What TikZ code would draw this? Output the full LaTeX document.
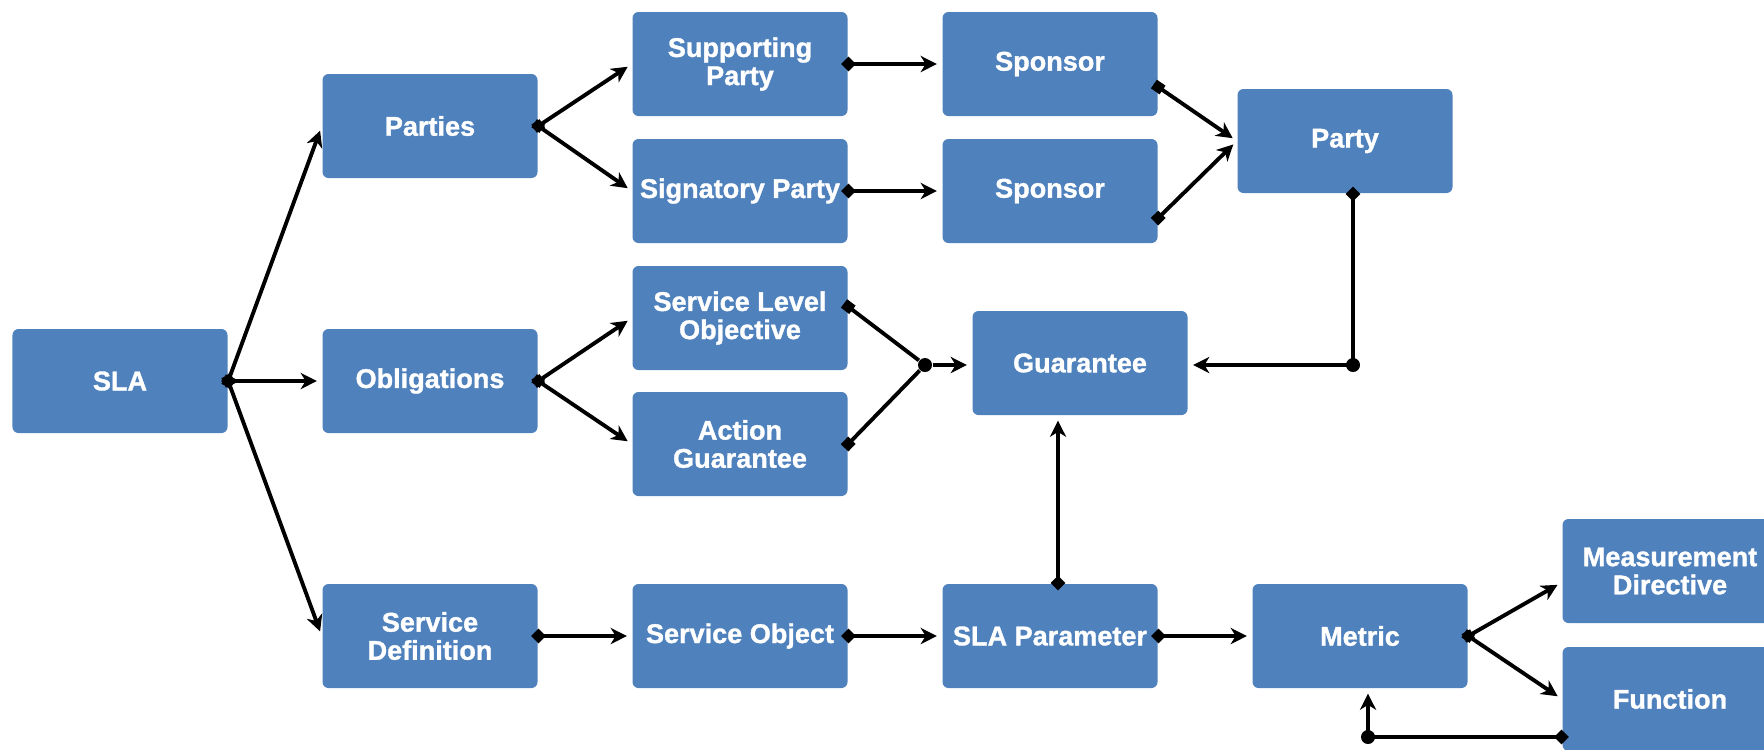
\documentclass[tikz,border=0pt]{standalone}
\usepackage{fontspec}
\setmainfont{Liberation Sans}[BoldFeatures={FakeBold=1.2}]
\usepackage{xcolor}
\usepackage{tikz}
\usetikzlibrary{arrows.meta,calc}

\definecolor{boxblue}{HTML}{4F81BD}

\begin{document}
\begin{tikzpicture}[
    font=\bfseries\fontsize{7.7}{8}\selectfont,
    >={Stealth[length=4.6pt, width=4.6pt, inset=1.4pt]},
    box/.style={rectangle, rounded corners=0.6mm, fill=boxblue, text=white,
                minimum width=21.5mm, minimum height=10.4mm, inner sep=0pt, align=center},
    arr/.style={line width=1.1pt, ->, shorten >=1.4pt},
    dlink/.style={arr, {Turned Square[length=4.2pt, width=4.2pt]}->, shorten <=-2pt},
    slink/.style={line width=1.1pt, {Square[length=3pt, width=3pt]}-, shorten <=-1.5pt},
    sarr/.style={arr, {Square[length=3pt, width=3pt]}->, shorten <=-1.5pt},
    fork/.style={arr, {Square[length=2.8pt, width=2.8pt]}->, shorten <=-1.4pt},
    dot/.style={circle, fill=black, inner sep=0pt, minimum size=1.4mm},
]
\useasboundingbox (0,0) rectangle (17.64,-7.49);
\fill[white] (0,0) rectangle (17.64,-7.49);

% ---------------- boxes ----------------
\node[box] (sla)     at (1.20,-3.81)  {SLA};
\node[box] (parties) at (4.30,-1.26)  {Parties};
\node[box] (oblig)   at (4.30,-3.81)  {Obligations};
\node[box] (servdef) at (4.30,-6.36)  {Service\\Definition};
\node[box] (supp)    at (7.40,-0.64)  {Supporting\\Party};
\node[box] (sign)    at (7.40,-1.91)  {Signatory Party};
\node[box] (slo)     at (7.40,-3.18)  {Service Level\\Objective};
\node[box] (actg)    at (7.40,-4.44)  {Action\\Guarantee};
\node[box] (servobj) at (7.40,-6.36)  {Service Object};
\node[box] (spons1)  at (10.50,-0.64) {Sponsor};
\node[box] (spons2)  at (10.50,-1.91) {Sponsor};
\node[box] (guar)    at (10.80,-3.63) {Guarantee};
\node[box] (slapar)  at (10.50,-6.36) {SLA Parameter};
\node[box] (party)   at (13.45,-1.41) {Party};
\node[box] (metric)  at (13.60,-6.36) {Metric};
\node[box] (measdir) at (16.70,-5.71) {Measurement\\Directive};
\node[box] (func)    at (16.70,-6.99) {Function};

% ---------------- junction dots ----------------
\node[dot] (jg) at (9.25,-3.65) {};
\node[dot] (jp) at (13.53,-3.65) {};
\node[dot] (jm) at (13.68,-7.37) {};

% ---------------- SLA and its parts ----------------
\draw[dlink] (sla.east) -- (parties.west);
\draw[dlink] (sla.east) -- (oblig.west);
\draw[dlink] (sla.east) -- (servdef.west);

\draw[fork] (parties.east) -- (supp.west);
\draw[fork] (parties.east) -- (sign.west);
\draw[fork] (oblig.east) -- (slo.west);
\draw[fork] (oblig.east) -- (actg.west);

% ---------------- parties side ----------------
\draw[dlink] (supp.east) -- (spons1.west);
\draw[dlink] (sign.east) -- (spons2.west);
\draw[sarr] (spons1.-12) -- (party.west);
\draw[sarr] (spons2.-14) -- (party.west);

% ---------------- guarantee ----------------
\draw[slink] (slo.6) -- (jg);
\draw[slink] (actg.east) -- (jg);
\draw[arr] (jg) -- (guar.west |- jg);
\draw[dlink] (party.south -| jp) -- (jp.center) -- (guar.east |- jp);
\draw[dlink] (slapar.north -| 10.58,0) -- (guar.south -| 10.58,0);

% ---------------- service definition row ----------------
\draw[dlink] (servdef.east) -- (servobj.west);
\draw[dlink] (servobj.east) -- (slapar.west);
\draw[dlink] (slapar.east) -- (metric.west);

\draw[fork] (metric.east) -- (measdir.-174);
\draw[fork] (metric.east) -- (func.west);
\draw[dlink] (func.west |- jm) -- (jm.center) -- (metric.south -| jm);
\end{tikzpicture}
\end{document}
